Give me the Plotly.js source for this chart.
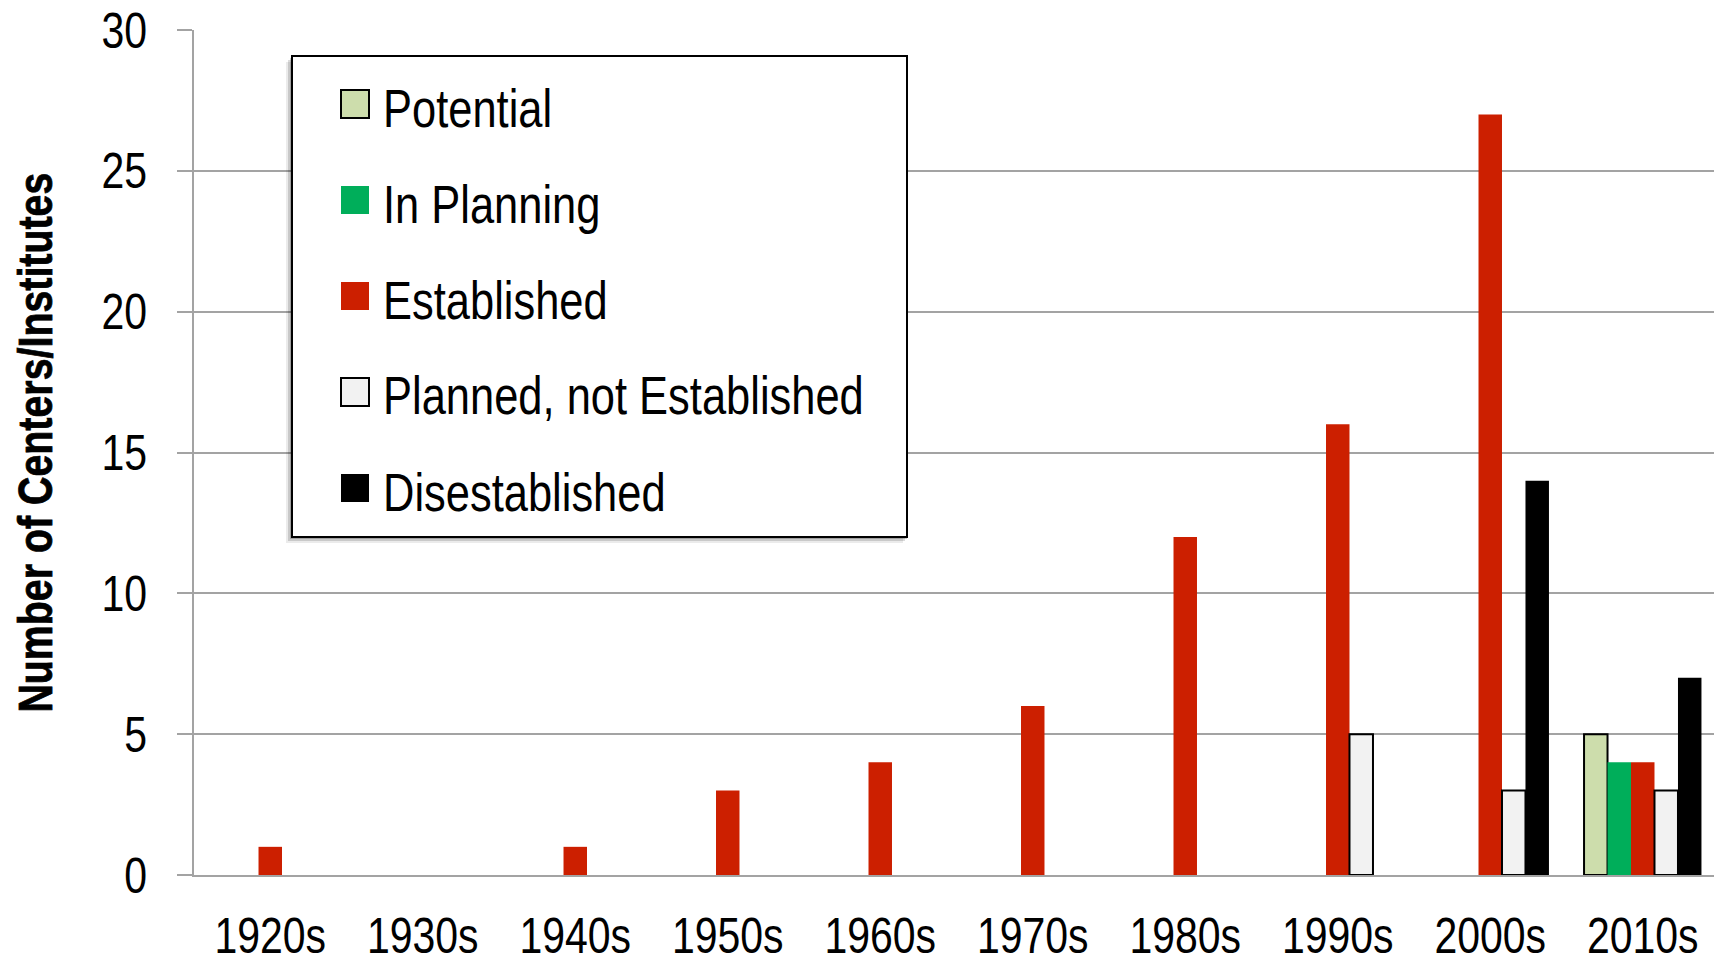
<!DOCTYPE html>
<html>
<head>
<meta charset="utf-8">
<script src="https://cdn.plot.ly/plotly-3.0.1.min.js"></script>
<style>
  html, body { margin: 0; padding: 0; overflow: hidden; background: #ffffff; }
  #chart { width: 1720px; height: 965px; }
</style>
</head>
<body>
<div id="chart"></div>
<script>
// ---- data ----
const categories = ['1920s', '1930s', '1940s', '1950s', '1960s', '1970s', '1980s', '1990s', '2000s', '2010s'];
const seriesNames = ['Potential', 'In Planning', 'Established', 'Planned, not Established', 'Disestablished'];
const potential = [null, null, null, null, null, null, null, null, null, 5];
const inPlanning = [null, null, null, null, null, null, null, null, null, 4];
const established = [1, 0, 1, 3, 4, 6, 12, 16, 27, 4];
const plannedNotEstablished = [null, null, null, null, null, null, null, 5, 3, 3];
const disestablished = [null, null, null, null, null, null, null, null, 14, 7];
const yTicks = [0, 5, 10, 15, 20, 25, 30];
const yTitle = 'Number of Centers/Institutes';

// ---- styles ----
const FONT = '"Liberation Sans", Arial, sans-serif';
const NARROW = 0.82; // Arial Narrow look: Arial compressed horizontally
const fills = ['#CDDDAC', '#00AE5A', '#CC1F00', '#F2F2F2', '#000000'];
const outlines = [2, 0, 0, 2, 0];
const seriesValues = [potential, inPlanning, established, plannedNotEstablished, disestablished];
const GRID = '#A3A3A3';

const W = 1720, H = 965;
const L = 194, R = 1719, T = 30, B = 875;
const xp = px => (px - L) / (R - L);
const yp = py => (B - py) / (B - T);

const traces = seriesValues.map((vals, i) => ({
  type: 'bar',
  name: seriesNames[i],
  x: categories,
  y: vals,
  marker: { color: fills[i], line: { color: '#000000', width: outlines[i] } },
  hoverinfo: 'x+y+name'
}));

// ---- custom legend (box, shadow, swatches, labels) ----
const shapes = [];
const annotations = [];
const box = { x0: 292, x1: 907, y0: 56, y1: 537 };
[[6, 6, 0.08], [4, 4, 0.14], [2, 2, 0.20]].forEach(([dx, dy, op]) => {
  shapes.push({ type: 'rect', xref: 'paper', yref: 'paper', layer: 'above',
    x0: xp(box.x0 - dx), x1: xp(box.x1 - dx + 2), y0: yp(box.y1 + dy), y1: yp(box.y0 + dy),
    fillcolor: 'rgba(0,0,0,' + op + ')', line: { width: 0 } });
});
shapes.push({ type: 'rect', xref: 'paper', yref: 'paper', layer: 'above',
  x0: xp(box.x0), x1: xp(box.x1), y0: yp(box.y1), y1: yp(box.y0),
  fillcolor: '#ffffff', line: { color: '#000000', width: 2 } });
const itemY = [104, 200, 296, 392, 488];
seriesNames.forEach((name, i) => {
  const cy = itemY[i];
  shapes.push({ type: 'rect', xref: 'paper', yref: 'paper', layer: 'above',
    x0: xp(341), x1: xp(369), y0: yp(cy + 14), y1: yp(cy - 14),
    fillcolor: fills[i], line: { color: '#000000', width: outlines[i] } });
  annotations.push({ xref: 'paper', yref: 'paper', x: xp(381), y: yp(cy + 4),
    xanchor: 'left', yanchor: 'middle', showarrow: false, text: name,
    font: { family: FONT, size: 53, color: '#000000' } });
});
// y-axis title
annotations.push({ xref: 'paper', yref: 'paper', x: xp(35), y: yp(443),
  xanchor: 'center', yanchor: 'middle', showarrow: false, textangle: -90,
  text: yTitle,
  font: { family: FONT, size: 48, weight: 'bold', color: '#000000' } });

const layout = {
  width: W, height: H,
  margin: { l: L, r: W - R, t: T, b: H - B, pad: 0 },
  paper_bgcolor: '#ffffff', plot_bgcolor: '#ffffff',
  showlegend: false,
  barmode: 'group', bargap: 0.23, bargroupgap: 0,
  font: { family: FONT, color: '#000000' },
  xaxis: {
    type: 'category', showgrid: false, zeroline: false,
    showline: true, linecolor: GRID, linewidth: 2,
    ticks: '', tickfont: { family: FONT, size: 50, color: '#000000' },
    ticklabelstandoff: 16
  },
  yaxis: {
    range: [0, 30], tickvals: yTicks, ticktext: yTicks.map(String),
    showgrid: true, gridcolor: GRID, gridwidth: 2,
    zeroline: false, showline: true, linecolor: GRID, linewidth: 2,
    ticks: 'outside', ticklen: 15, tickwidth: 2, tickcolor: GRID,
    tickfont: { family: FONT, size: 50, color: '#000000' },
    ticklabelstandoff: 20
  },
  shapes: shapes,
  annotations: annotations
};

// Compress every text horizontally around its anchor edge (Arial Narrow look).
function narrowText() {
  document.querySelectorAll('#chart svg text').forEach(t => {
    if (t.getAttribute('data-narrow')) return;
    const bb = t.getBBox();
    if (!bb.width) return;
    let px;
    if (seriesNames.indexOf(t.textContent) >= 0) {
      px = bb.x; // left-aligned legend labels
    } else {
      const anchor = t.getAttribute('text-anchor') || getComputedStyle(t).textAnchor;
      px = anchor === 'start' ? bb.x : (anchor === 'end' ? bb.x + bb.width : bb.x + bb.width / 2);
    }
    if (t.textContent === yTitle) {
      t.style.stroke = '#000000';
      t.style.strokeWidth = '0.8px';
    }
    const prev = t.getAttribute('transform') || '';
    t.setAttribute('transform', (prev + ' translate(' + px + ',0) scale(' + NARROW + ',1) translate(' + (-px) + ',0)').trim());
    t.setAttribute('data-narrow', '1');
  });
}

Plotly.newPlot('chart', traces, layout, { displayModeBar: false, staticPlot: true }).then(narrowText);
</script>
</body>
</html>
